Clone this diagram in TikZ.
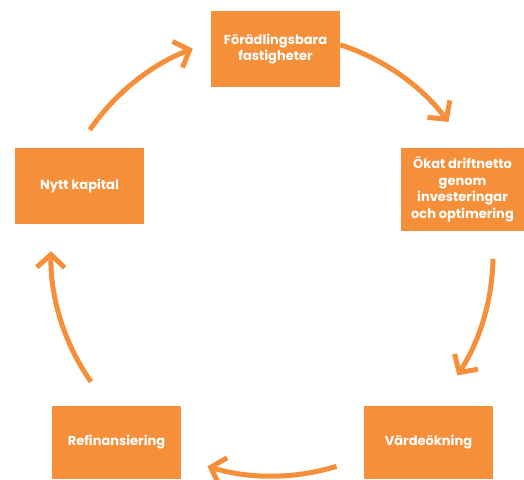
\documentclass[tikz,border=0pt]{standalone}
\usepackage{fontspec}
\setmainfont{Poppins}
\usetikzlibrary{arrows.meta}
\definecolor{kretsorange}{HTML}{F68F3A}

\begin{document}
\begin{tikzpicture}[x=1pt,y=1pt,>={Straight Barb[length=13pt,width=28pt]},
  every node/.style={font=\fontsize{13}{16.5}\selectfont\bfseries,text=white},
  box/.style={fill=kretsorange,minimum width=129pt,minimum height=76pt,align=center,inner sep=0pt},
  flow/.style={draw=kretsorange,line width=5pt,->}]
  \useasboundingbox (0,0) rectangle (524,479);
  \node[box] (fast) at (275.5,430) {Förädlingsbara\\fastigheter};
  \node[box,minimum width=123pt,minimum height=83pt] (drift) at (462.5,289.5)
    {Ökat driftnetto\\genom\\investeringar\\och optimering};
  \node[box,minimum height=73pt] (varde) at (428.5,36.5) {Värdeökning};
  \node[box,minimum height=73pt] (refi) at (116.5,36.5) {Refinansiering};
  \node[box] (kap) at (79.5,293) {Nytt kapital};
  \coordinate (mid) at (272,224);
  % pilar runt cirkeln
  \draw[flow] ([shift={(72:221)}]mid) arc[start angle=72,end angle=37,radius=221];
  \draw[flow] ([shift={(-1:221)}]mid) arc[start angle=-1,end angle=-33,radius=221];
  \draw[flow] ([shift={(-73:221)}]mid) arc[start angle=-73,end angle=-107,radius=221];
  \draw[flow] ([shift={(-145:221)}]mid) arc[start angle=-145,end angle=-181,radius=221];
  \draw[flow] ([shift={(145.5:221)}]mid) arc[start angle=145.5,end angle=111,radius=221];
\end{tikzpicture}
\end{document}
